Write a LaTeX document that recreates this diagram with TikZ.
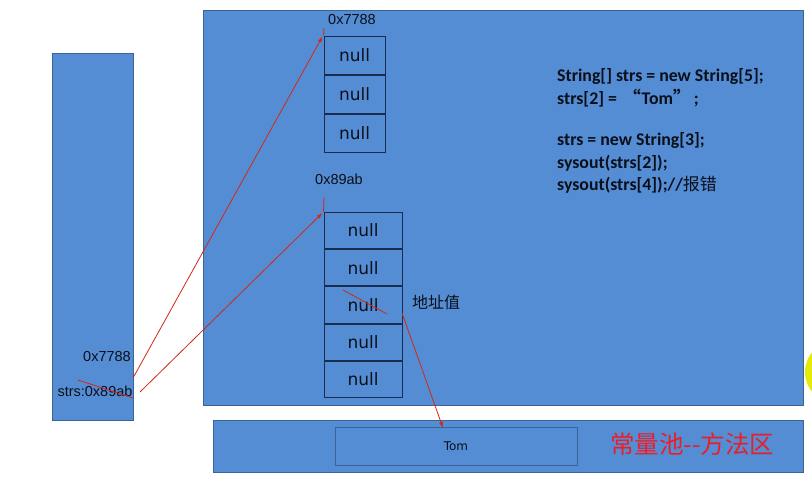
\documentclass[tikz,border=0pt]{standalone}
\usepackage{fontspec}
\setmainfont{DejaVu Sans}
\newfontfamily\codefont{Carlito}
\newfontfamily\labfont{Liberation Sans}
\newfontfamily\cjk{Noto Sans CJK SC}
\usetikzlibrary{arrows.meta}
\definecolor{areablue}{RGB}{84,141,212}
\definecolor{areaedge}{RGB}{58,100,150}
\definecolor{celledge}{RGB}{25,45,80}
\definecolor{redline}{RGB}{210,40,20}
\definecolor{cjkred}{RGB}{235,30,40}
\definecolor{txt}{RGB}{10,15,25}
\begin{document}
\begin{tikzpicture}[x=1pt,y=-1pt,
  area/.style={draw=areaedge,fill=areablue,line width=1pt},
  cellbox/.style={draw=celledge,line width=1pt,minimum width=61pt,minimum height=38pt,inner sep=0pt,font=\fontsize{17}{17}\selectfont,text=txt},
  cellboxw/.style={cellbox,minimum width=78pt,minimum height=36.2pt},
  lab/.style={font=\labfont\fontsize{14.5}{14.5}\selectfont,text=txt,inner sep=0pt},
  code/.style={font=\codefont\bfseries\fontsize{17.8}{17.8}\selectfont,text=txt,inner sep=0pt,anchor=west},
  redl/.style={draw=redline,line width=0.8pt},
  reda/.style={redl,-{Latex[length=6pt,width=4pt]}}]
\useasboundingbox (0,0) rectangle (812,485);
\clip (0,0) rectangle (812,485);
\fill[white] (0,0) rectangle (812,485);
% yellow highlight
\fill[yellow!90!green] (836,372) circle (31);
% areas
\draw[area] (52,53) rectangle (133,420);
\draw[area] (203,10) rectangle (803,405);
\draw[area] (213,420) rectangle (803,472);
\node[draw=areaedge,line width=0.8pt,minimum width=242pt,minimum height=38pt,inner sep=0pt,font=\fontsize{12}{12}\selectfont,text=txt] (tom) at (456,446) {Tom};
% array 1
\node[cellbox] (a1) at (354.5,55) {null};
\node[cellbox,anchor=north] (a2) at (a1.south) {null};
\node[cellbox,anchor=north] (a3) at (a2.south) {null};
% array 2
\node[cellboxw] (b1) at (363,230.5) {null};
\node[cellboxw,anchor=north] (b2) at (b1.south) {null};
\node[cellboxw,anchor=north] (b3) at (b2.south) {null};
\node[cellboxw,anchor=north] (b4) at (b3.south) {null};
\node[cellboxw,anchor=north] (b5) at (b4.south) {null};
% labels
\node[lab] (l1) at (352,20) {0x7788};
\node[lab] (l2) at (339,179) {0x89ab};
\node[lab] (l3) at (107,357) {0x7788};
\node[lab] (l4) at (95,391) {strs:0x89ab};
\node[font=\cjk\fontsize{16}{16}\selectfont,text=txt,inner sep=0pt] (addr) at (436,302) {地址值};
\node[font=\cjk\fontsize{24.5}{24.5}\selectfont,text=cjkred,inner sep=0pt] (pool) at (692,444) {常量池--方法区};
% code
\node[code] (c1) at (557,77) {String[] strs = new String[5];};
\node[code] (c2) at (557,98) {strs[2] = \,{\cjk “}Tom{\cjk ”}\,;};
\node[code] (c3) at (557,141) {strs = new String[3];};
\node[code] (c4) at (557,163) {sysout(strs[2]);};
\node[code] (c5) at (557,185) {sysout(strs[4]);//{\cjk\mdseries\fontsize{17}{17}\selectfont 报错}};
% connectors
\coordinate (s1) at (133,378);
\coordinate (s2) at (140,392);
\coordinate (t1) at (324,28);
\coordinate (t2) at (324,197);
\draw[redl] (t1) -- (a1.north west);
\draw[redl] (t2) -- (b1.north west);
\draw[reda] (s1) -- ([xshift=-1pt,yshift=-1pt]a1.north west);
\draw[reda] (s2) -- ([xshift=-1pt,yshift=-1pt]b1.north west);
\coordinate (k1) at (78,380);
\coordinate (k2) at (133,398);
\draw[redl] (k1) -- (k2);
\coordinate (m1) at (343,290);
\coordinate (m2) at (387,314);
\draw[redl] (m1) -- (m2);
\coordinate (p1) at (402,313);
\draw[reda] (p1) -- (443,428);
\end{tikzpicture}
\end{document}
